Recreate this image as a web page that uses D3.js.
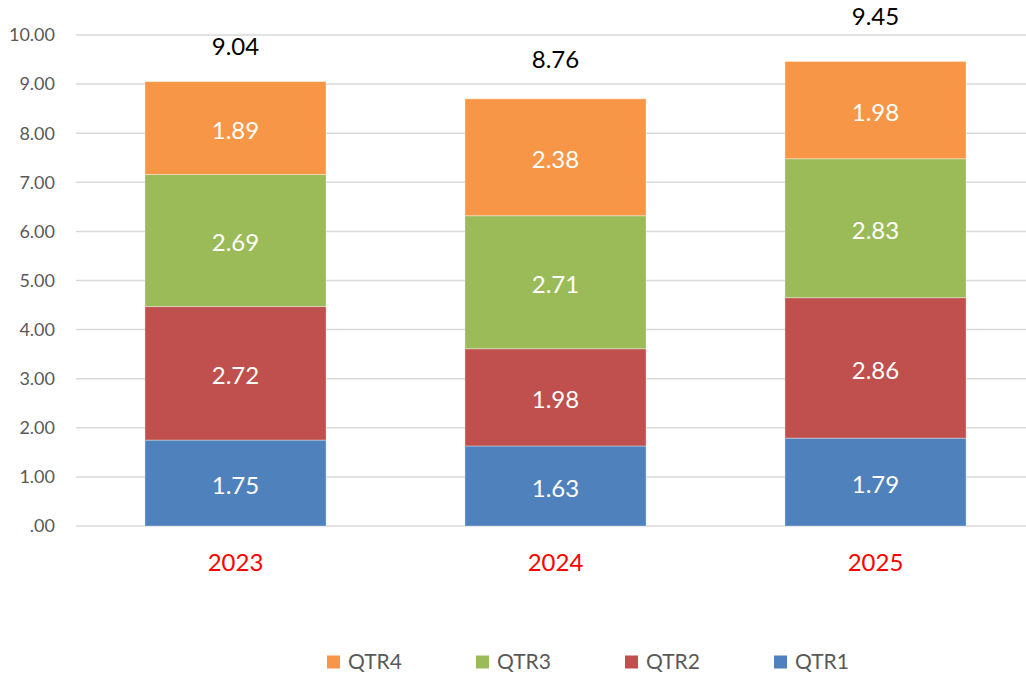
<!DOCTYPE html>
<html>
<head>
<meta charset="utf-8">
<script src="https://cdn.jsdelivr.net/npm/d3@7"></script>
<style>
  body { margin: 0; background: #fff; }
  svg { font-family: Lato, "Open Sans", sans-serif; }
</style>
</head>
<body>
<script>
// chart values
var years = ["2023", "2024", "2025"];
var qtr1 = [1.75, 1.63, 1.79];
var qtr2 = [2.72, 1.98, 2.86];
var qtr3 = [2.69, 2.71, 2.83];
var qtr4 = [1.89, 2.38, 1.98];
var totals = [9.04, 8.76, 9.45];
var totalLabelAt = [9.77, 9.50, 10.37]; // where the total labels sit, in axis units
var yTicks = [0, 1, 2, 3, 4, 5, 6, 7, 8, 9, 10];
var seriesNames = ["QTR1", "QTR2", "QTR3", "QTR4"];
var legendOrder = ["QTR4", "QTR3", "QTR2", "QTR1"];

var width = 1026, height = 676;
var colors = {QTR1: "#4f81bd", QTR2: "#c0504d", QTR3: "#9bbb59", QTR4: "#f79646"};

var rows = years.map(function(y, i){
    return {year: y, QTR1: qtr1[i], QTR2: qtr2[i], QTR3: qtr3[i], QTR4: qtr4[i]};
});
var stacked = d3.stack().keys(seriesNames)(rows);

var svg = d3.select("body").append("svg")
    .attr("width", width)
    .attr("height", height);

var x = d3.scaleBand()
    .domain(years)
    .range([75.5, 1035.5])
    .paddingInner(0.434)
    .paddingOuter(0.217);

var y = d3.scaleLinear()
    .domain([0, 10])
    .range([526, 35]);

// grid
svg.append("g").selectAll("line")
    .data(yTicks)
    .enter().append("line")
    .attr("x1", 76).attr("x2", width)
    .attr("y1", d => y(d)).attr("y2", d => y(d))
    .style("stroke", "#d9d9d9")
    .style("stroke-width", 1.5);

// y labels
var fmt = d3.format(".2f");
svg.append("g").selectAll("text")
    .data(yTicks)
    .enter().append("text")
    .attr("x", 55)
    .attr("y", d => y(d))
    .attr("dy", "0.35em")
    .attr("text-anchor", "end")
    .style("font-size", "18px")
    .style("fill", "#595959")
    .text(d => d === 0 ? ".00" : fmt(d));

// bars
var layers = svg.append("g").selectAll("g")
    .data(stacked)
    .enter().append("g")
    .style("fill", d => colors[d.key]);

layers.selectAll("rect")
    .data(d => d)
    .enter().append("rect")
    .attr("x", d => x(d.data.year))
    .attr("width", x.bandwidth())
    .attr("y", d => y(d[1]))
    .attr("height", d => y(d[0]) - y(d[1]))
    .style("stroke", "rgba(255,255,255,0.35)")
    .style("stroke-width", 1);

layers.selectAll("text")
    .data(d => d)
    .enter().append("text")
    .attr("x", d => x(d.data.year) + x.bandwidth() / 2)
    .attr("y", d => y((d[0] + d[1]) / 2))
    .attr("dy", "0.45em")
    .attr("text-anchor", "middle")
    .style("font-size", "24px")
    .style("fill", "#fff")
    .text(d => fmt(d[1] - d[0]));

// totals
svg.append("g").selectAll("text")
    .data(years)
    .enter().append("text")
    .attr("x", d => x(d) + x.bandwidth() / 2)
    .attr("y", (d, i) => y(totalLabelAt[i]))
    .attr("dy", "0.35em")
    .attr("text-anchor", "middle")
    .style("font-size", "24px")
    .style("fill", "#000")
    .text((d, i) => fmt(totals[i]));

// category labels
svg.append("g").selectAll("text")
    .data(years)
    .enter().append("text")
    .attr("x", d => x(d) + x.bandwidth() / 2)
    .attr("y", 563)
    .attr("dy", "0.35em")
    .attr("text-anchor", "middle")
    .style("font-size", "24px")
    .style("fill", "#ff0000")
    .text(d => d);

// legend
var legend = svg.append("g").selectAll("g")
    .data(legendOrder)
    .enter().append("g")
    .attr("transform", (d, i) => "translate(" + (327 + i * 149) + ",662)");

legend.append("rect")
    .attr("x", 0).attr("y", -6.5)
    .attr("width", 13).attr("height", 13)
    .style("fill", d => colors[d]);

legend.append("text")
    .attr("x", 21)
    .attr("dy", "0.35em")
    .style("font-size", "21px")
    .style("fill", "#595959")
    .text(d => d);
</script>
</body>
</html>
